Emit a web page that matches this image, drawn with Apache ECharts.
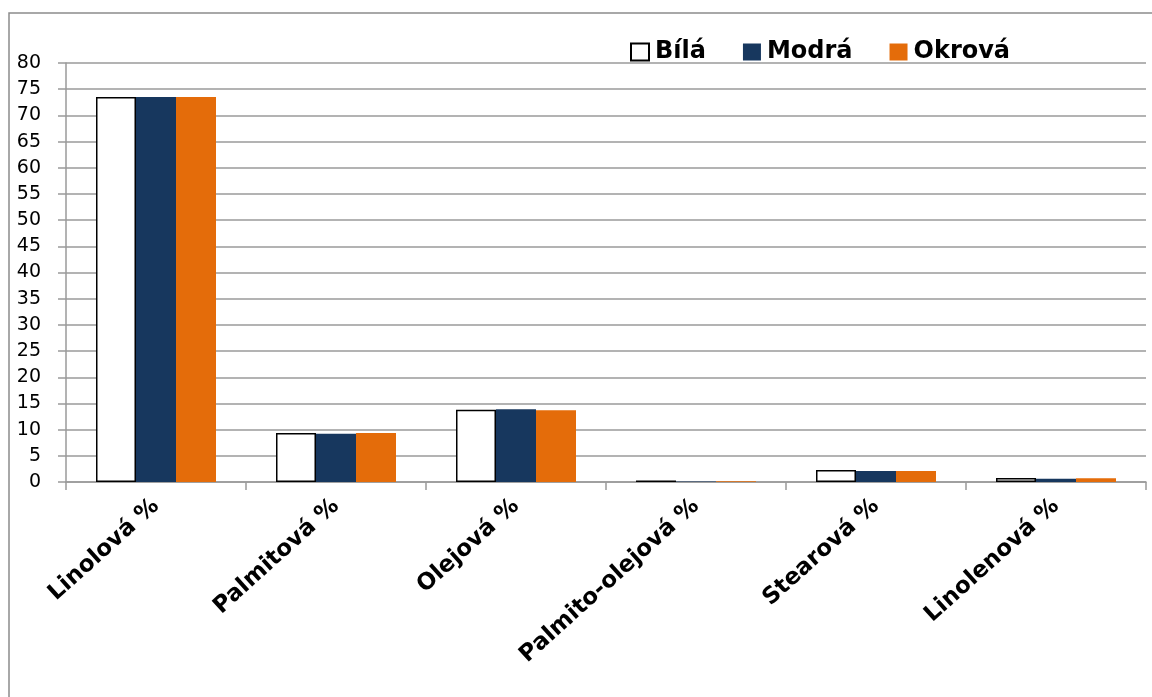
<!DOCTYPE html>
<html>
<head>
<meta charset="utf-8">
<script src="https://cdn.jsdelivr.net/npm/echarts@6/dist/echarts.min.js"></script>
<style>
  html, body { margin: 0; padding: 0; background: #fff; }
  #chart { width: 1152px; height: 697px; }
</style>
</head>
<body>
<div id="chart"></div>
<script>
const categories = ["Linolová %", "Palmitová %", "Olejová %", "Palmito-olejová %", "Stearová %", "Linolenová %"];
const bilaValues = [73.5, 9.35, 13.8, 0.3, 2.3, 0.75];
const modraValues = [73.5, 9.2, 13.9, 0.1, 2.1, 0.6];
const okrovaValues = [73.5, 9.35, 13.7, 0.15, 2.1, 0.7];

const fontFamily = "'DejaVu Sans', sans-serif";
const chart = echarts.init(document.getElementById("chart"));

const option = {
  animation: false,
  graphic: [{
    type: "rect",
    shape: { x: 9, y: 13, width: 1200, height: 700 },
    style: { fill: "none", stroke: "#8c8c8c", lineWidth: 1.5 },
    silent: true
  }],
  legend: {
    left: 630,
    top: 40,
    padding: 0,
    icon: "rect",
    itemWidth: 18,
    itemHeight: 17,
    itemGap: 37,
    textStyle: {
      fontFamily: fontFamily,
      fontSize: 24,
      fontWeight: "bold",
      color: "#000",
      padding: [0, 0, 0, 1]
    },
    data: ["Bílá", "Modrá", "Okrová"]
  },
  grid: {
    left: 66,
    right: 6,
    top: 63,
    bottom: 215,
    containLabel: false
  },
  xAxis: {
    type: "category",
    data: categories,
    axisLine: { lineStyle: { color: "#9a9a9a", width: 1.5 } },
    axisTick: { show: true, length: 8, lineStyle: { color: "#9a9a9a", width: 1.5 } },
    axisLabel: {
      rotate: 42,
      interval: 0,
      margin: 21,
      fontFamily: fontFamily,
      fontSize: 23,
      fontWeight: "bold",
      color: "#000"
    }
  },
  yAxis: {
    type: "value",
    min: 0,
    max: 80,
    interval: 5,
    axisLine: { show: true, lineStyle: { color: "#9a9a9a", width: 1.5 } },
    axisTick: { show: true, length: 8, lineStyle: { color: "#9a9a9a", width: 1.5 } },
    splitLine: { lineStyle: { color: "#9a9a9a", width: 1.5 } },
    axisLabel: {
      margin: 25,
      fontFamily: fontFamily,
      fontSize: 19,
      color: "#000"
    }
  },
  series: [
    {
      name: "Bílá",
      type: "bar",
      barWidth: 40,
      barGap: "0%",
      itemStyle: { color: "#ffffff", borderColor: "#000", borderWidth: 1.5 },
      data: bilaValues
    },
    {
      name: "Modrá",
      type: "bar",
      barWidth: 40,
      barGap: "0%",
      itemStyle: { color: "#17375E" },
      data: modraValues
    },
    {
      name: "Okrová",
      type: "bar",
      barWidth: 40,
      barGap: "0%",
      itemStyle: { color: "#E46C0A" },
      data: okrovaValues
    }
  ]
};

chart.setOption(option);
</script>
</body>
</html>
